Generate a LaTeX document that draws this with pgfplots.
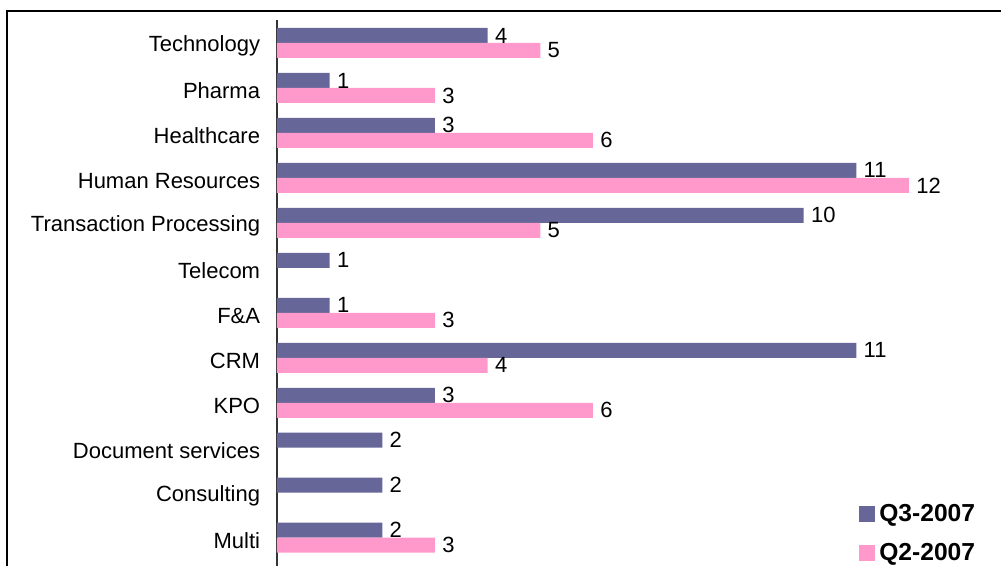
\documentclass[border=0pt]{standalone}
\usepackage{pgfplots}
\pgfplotsset{compat=1.18}
\usepackage{fontspec}
\setmainfont{Liberation Sans}

\definecolor{qthree}{RGB}{102,102,153}
\definecolor{qtwo}{RGB}{255,153,204}

\begin{document}
\begin{tikzpicture}
% image is 1001x566 px, 1px = 0.5pt, origin at top left
\useasboundingbox (0pt,0pt) rectangle (500.5pt,-283pt);
\draw[line width=1pt] (3.5pt,-283pt) -- (3.5pt,-5.5pt) -- (501pt,-5.5pt);

\begin{axis}[
    at={(138.5pt,-283pt)}, anchor=south west,
    scale only axis,
    width=342.3pt,
    height=272.75pt,
    xbar,
    bar width=7.5pt,
    xmin=0, xmax=13,
    ymin=-0.63, ymax=11.5,
    axis x line=none,
    axis y line*=left,
    y axis line style={-, draw=black!80, line width=0.75pt},
    ytick={0,...,11},
    yticklabels={Multi, Consulting, Document services, KPO, CRM, F\&A, Telecom,
      Transaction Processing, Human Resources, Healthcare, Pharma, Technology},
    ytick style={draw=none},
    yticklabel style={font=\fontsize{11}{13}\selectfont, inner sep=0pt, xshift=-4pt, yshift=-1.5pt},
    /pgf/number format/assume math mode=true,
    nodes near coords,
    nodes near coords style={font=\fontsize{11}{13}\selectfont, anchor=west, inner sep=0pt, xshift=3.5pt},
    legend cell align=left,
    legend image code/.code={\fill[#1, draw=none] (0pt,-4pt) rectangle (8pt,4pt);},
    legend style={draw=none, fill=none, inner sep=0pt, row sep=5.5pt,
      font=\fontsize{12.3}{14}\bfseries,
      at={(0.850,0.122)}, anchor=north west},
]
\addplot[fill=qthree, draw=none, bar shift=3.75pt] coordinates {
    (4,11) (1,10) (3,9) (11,8) (10,7) (1,6) (1,5) (11,4) (3,3) (2,2) (2,1) (2,0)
};
\addlegendentry{Q3-2007}
\addplot[fill=qtwo, draw=none, bar shift=-3.75pt] coordinates {
    (5,11) (3,10) (6,9) (12,8) (5,7) (3,5) (4,4) (6,3) (3,0)
};
\addlegendentry{Q2-2007}
\end{axis}
\end{tikzpicture}
\end{document}
